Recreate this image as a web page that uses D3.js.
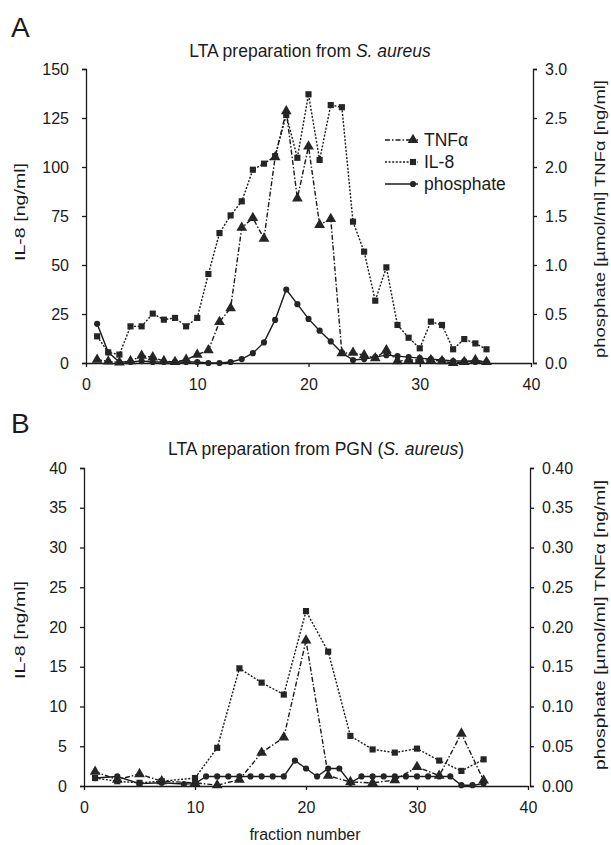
<!DOCTYPE html>
<html lang="en">
<head>
<meta charset="UTF-8">
<title>LTA fractions</title>
<script src="https://d3js.org/d3.v7.min.js"></script>
<style>
  body { margin: 0; background: #fff; }
  svg { display: block; font-family: 'Liberation Sans', Arial, sans-serif; }
  .axis path, .axis line { stroke: #1a1a1a; stroke-width: 1.3px; }
  .axis text { fill: #1a1a1a; font-size: 16px; font-family: 'Liberation Sans', Arial, sans-serif; }
</style>
</head>
<body>
<div id="chart"></div>
<script>
// ---- panel A: LTA preparation from S. aureus ----
const fracA = [1, 2, 3, 4, 5, 6, 7, 8, 9, 10, 11, 12, 13, 14, 15, 16, 17, 18,
               19, 20, 21, 22, 23, 24, 25, 26, 27, 28, 29, 30, 31, 32, 33, 34, 35, 36];
const il8A = [13.6, 5.4, 4.3, 18.7, 18.7, 25.2, 22.1, 23, 18.7, 23, 45.4, 66.3, 75.3, 82.5, 98.6, 101.7, 105.5, 126.5,
              104.7, 137.1, 103.6, 131.6, 130.5, 72.1, 56.8, 31.8, 48.8, 19.4, 12.9, 7.5, 21.1, 19.4, 7.0, 12.2, 10.0, 7.0];
const tnfA = [0.034, 0.017, 0.006, 0.02, 0.075, 0.058, 0.02, 0.01, 0.034, 0.085, 0.13, 0.42, 0.56, 1.38, 1.48, 1.27, 2.1, 2.57,
              1.68, 2.21, 1.41, 1.47, 0.10, 0.105, 0.08, 0.05, 0.13, 0.02, 0.03, 0.03, 0.03, 0.02, 0.0, 0.01, 0.03, 0.01];
const phosA = [0.40, 0.11, 0.01, 0.01, 0.02, 0.01, 0.01, 0.01, 0.01, 0.01, 0.0, 0.0, 0.01, 0.04, 0.10, 0.21, 0.44, 0.75,
               0.60, 0.45, 0.33, 0.22, 0.105, 0.03, 0.04, 0.06, 0.08, 0.07, 0.06, 0.05, 0.04, 0.03, 0.02, 0.02, 0.01, 0.01];

// ---- panel B: LTA preparation from PGN (S. aureus) ----
const fracB = [1, 3, 5, 7, 10, 12, 14, 16, 18, 20, 22, 24, 26, 28, 30, 32, 34, 36];
const il8B = [1.0, 0.6, 0.4, 0.6, 1.0, 4.8, 14.8, 13.0, 11.5, 22.0, 16.9, 6.3, 4.6, 4.2, 4.7, 3.2, 1.9, 3.35];
const tnfB = [0.018, 0.008, 0.015, 0.006, 0.004, 0.001, 0.008, 0.042, 0.061, 0.183, 0.013, 0.005, 0.004, 0.0075, 0.024, 0.013, 0.066, 0.007];
const fracPhosB = [1, 3, 5, 7, 9, 10, 11, 12, 13, 14, 15, 16, 17, 18, 19, 20, 21, 22, 23, 24, 25, 26, 27, 28, 29, 30, 31, 32, 33, 34, 35, 36];
const phosB = [0.010, 0.012, 0.003, 0.004, 0.0025, 0.003, 0.012, 0.012, 0.012, 0.012, 0.012, 0.012, 0.012, 0.012, 0.032, 0.022,
               0.012, 0.022, 0.022, 0.004, 0.012, 0.012, 0.012, 0.012, 0.012, 0.012, 0.012, 0.012, 0.012, 0.001, 0.001, 0.003];

const xTicks = [0, 10, 20, 30, 40];
const leftTicksA = [0, 25, 50, 75, 100, 125, 150];
const rightTicksA = [0, 0.5, 1.0, 1.5, 2.0, 2.5, 3.0];
const leftTicksB = [0, 5, 10, 15, 20, 25, 30, 35, 40];
const rightTicksB = [0, 0.05, 0.10, 0.15, 0.20, 0.25, 0.30, 0.35, 0.40];

const legendItems = ["TNF\u03b1", "IL-8", "phosphate"];

const width = 611, height = 845;
const ink = "#1a1a1a";

const svg = d3.select("#chart").append("svg")
    .attr("width", width)
    .attr("height", height);

const styles = {
    tnf:  { dash: "5,2,1.5,2", symbol: d3.symbolTriangle, size: 50 },
    il8:  { dash: "2,1.6",     symbol: d3.symbolSquare,   size: 38 },
    phos: { dash: null,        symbol: d3.symbolCircle,   size: 30 }
};

function drawSeries(g, xs, ys, x, y, st) {
    const line = d3.line().x(d => x(d[0])).y(d => y(d[1]));
    const pts = xs.map((f, i) => [f, ys[i]]);
    g.append("path")
        .attr("d", line(pts))
        .attr("fill", "none")
        .attr("stroke", ink)
        .attr("stroke-width", 1.4)
        .attr("stroke-dasharray", st.dash);
    g.selectAll(null)
        .data(pts)
        .join("path")
        .attr("d", d3.symbol().type(st.symbol).size(st.size))
        .attr("transform", d => `translate(${x(d[0])},${y(d[1])})`)
        .attr("fill", "#252525");
}

function panel(cfg) {
    const g = svg.append("g");
    const x = d3.scaleLinear().domain([0, 40]).range(cfg.xr);
    const yL = d3.scaleLinear().domain([0, cfg.leftMax]).range(cfg.yr);
    const yR = d3.scaleLinear().domain([0, cfg.rightMax]).range(cfg.yr);

    g.append("g").attr("class", "axis")
        .attr("transform", `translate(0,${cfg.yr[0]})`)
        .call(d3.axisBottom(x).tickValues(xTicks).tickSize(4).tickSizeOuter(0).tickPadding(12));
    g.append("g").attr("class", "axis")
        .attr("transform", `translate(${cfg.xr[0]},0)`)
        .call(d3.axisLeft(yL).tickValues(cfg.leftTicks).tickSize(4).tickSizeOuter(4).tickPadding(13).tickFormat(d3.format("d")));
    g.append("g").attr("class", "axis")
        .attr("transform", `translate(${cfg.xr[1] + 2},0)`)
        .call(d3.axisRight(yR).tickValues(cfg.rightTicks).tickSize(4).tickSizeOuter(4).tickPadding(8).tickFormat(d3.format(cfg.rightFmt)));

    // phosphate and TNF on right axis, IL-8 on left axis
    drawSeries(g, cfg.phosX, cfg.phos, x, yR, styles.phos);
    drawSeries(g, cfg.tnfX, cfg.tnf, x, yR, styles.tnf);
    drawSeries(g, cfg.il8X, cfg.il8, x, yL, styles.il8);

    const title = g.append("text")
        .attr("x", cfg.titleX).attr("y", cfg.titleY)
        .attr("text-anchor", "middle")
        .attr("font-size", "17.5px").attr("fill", ink);
    cfg.title.forEach(part => title.append("tspan").attr("font-style", part[1] ? "italic" : null).text(part[0]));

    g.append("text")
        .attr("transform", `translate(25,${cfg.leftTitleY}) rotate(-90)`)
        .attr("text-anchor", "middle")
        .attr("font-size", "15px").attr("fill", ink)
        .attr("textLength", 98).attr("lengthAdjust", "spacingAndGlyphs")
        .text("IL-8 [ng/ml]");
    g.append("text")
        .attr("transform", `translate(605,${cfg.rightTitleY}) rotate(-90)`)
        .attr("text-anchor", "middle")
        .attr("font-size", "15px").attr("fill", ink)
        .attr("textLength", cfg.rightTitleLen).attr("lengthAdjust", "spacingAndGlyphs")
        .text("phosphate [\u00b5mol/ml] TNF\u03b1 [ng/ml]");

    g.append("text")
        .attr("x", 11).attr("y", cfg.letterY)
        .attr("font-size", "28px").attr("fill", ink)
        .text(cfg.letter);
    return g;
}

panel({
    letter: "A", letterY: 37,
    xr: [86, 531], yr: [363, 69],
    leftMax: 150, rightMax: 3.0,
    leftTicks: leftTicksA, rightTicks: rightTicksA, rightFmt: ".1f",
    il8X: fracA, il8: il8A, tnfX: fracA, tnf: tnfA, phosX: fracA, phos: phosA,
    title: [["LTA preparation from ", false], ["S. aureus", true]],
    titleX: 310, titleY: 57,
    leftTitleY: 212, rightTitleY: 219, rightTitleLen: 278
});

panel({
    letter: "B", letterY: 433,
    xr: [84, 528], yr: [786, 468],
    leftMax: 40, rightMax: 0.40,
    leftTicks: leftTicksB, rightTicks: rightTicksB, rightFmt: ".2f",
    il8X: fracB, il8: il8B, tnfX: fracB, tnf: tnfB, phosX: fracPhosB, phos: phosB,
    title: [["LTA preparation from PGN (", false], ["S. aureus", true], [")", false]],
    titleX: 316, titleY: 455,
    leftTitleY: 630, rightTitleY: 625, rightTitleLen: 290
});

svg.append("text")
    .attr("x", 305).attr("y", 840)
    .attr("text-anchor", "middle")
    .attr("font-size", "16px").attr("fill", ink)
    .text("fraction number");

// legend in panel A
const legend = svg.append("g");
const legendKeys = [styles.tnf, styles.il8, styles.phos];
legendItems.forEach((label, i) => {
    const ly = 140 + i * 22;
    legend.append("line")
        .attr("x1", 385).attr("x2", 418).attr("y1", ly).attr("y2", ly)
        .attr("stroke", ink).attr("stroke-width", 1.4)
        .attr("stroke-dasharray", legendKeys[i].dash);
    legend.append("path")
        .attr("d", d3.symbol().type(legendKeys[i].symbol).size(legendKeys[i].size))
        .attr("transform", `translate(413,${ly})`)
        .attr("fill", "#252525");
    legend.append("text")
        .attr("x", 424).attr("y", ly + 6)
        .attr("font-size", "17.5px").attr("fill", ink)
        .text(label);
});
</script>
</body>
</html>
